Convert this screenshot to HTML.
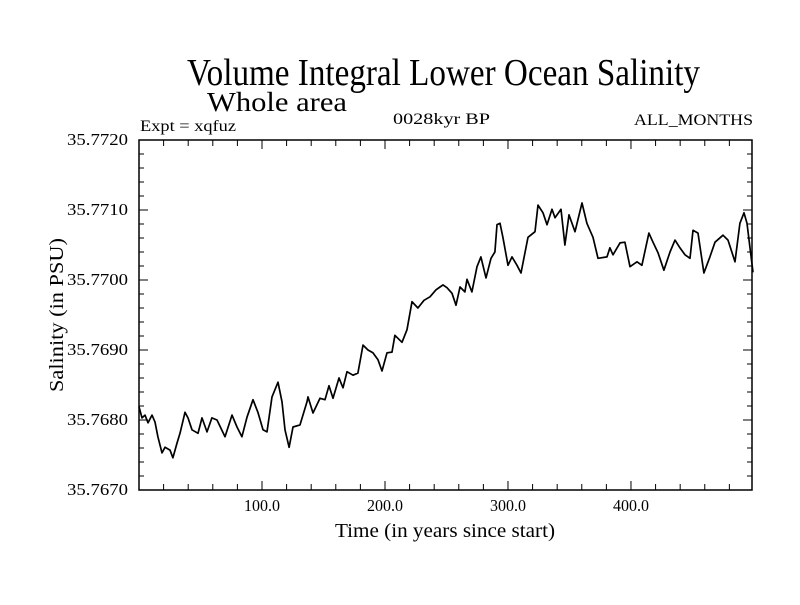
<!DOCTYPE html>
<html><head><meta charset="utf-8"><style>
body{margin:0;background:#fff}
svg text{font-family:"Liberation Serif",serif;fill:#000}
</style></head><body>
<svg width="800" height="600">
<rect width="800" height="600" fill="#fff"/>
<text x="187" y="85" font-size="38" textLength="513" lengthAdjust="spacingAndGlyphs">Volume Integral Lower Ocean Salinity</text>
<text x="207" y="111" font-size="27" textLength="140" lengthAdjust="spacingAndGlyphs">Whole area</text>
<text x="140" y="131" font-size="16" textLength="96" lengthAdjust="spacingAndGlyphs">Expt = xqfuz</text>
<text x="393" y="124" font-size="16" textLength="97" lengthAdjust="spacingAndGlyphs">0028kyr BP</text>
<text x="634" y="125" font-size="16" textLength="119" lengthAdjust="spacingAndGlyphs">ALL_MONTHS</text>
<g id="axes"></g>
<rect x="139" y="140" width="613" height="350" fill="none" stroke="#000" stroke-width="1.5"/>
<path id="line" fill="none" stroke="#000" stroke-width="1.7" stroke-linejoin="round"/>
<text x="335" y="537" font-size="20" textLength="220" lengthAdjust="spacingAndGlyphs">Time (in years since start)</text>
<text transform="translate(63,392) rotate(-90)" font-size="20" textLength="154" lengthAdjust="spacingAndGlyphs">Salinity (in PSU)</text>
</svg>
<script>
const years=[0,2.4,4.9,7.3,10.6,13.0,15.4,18.7,21.1,25.2,27.6,30.9,33.3,37.4,39.8,43.1,48.0,51.2,55.3,59.3,63.4,69.9,75.6,79.7,83.7,87.8,92.7,96.7,100.8,104.1,108.1,113.0,116.3,118.7,122.0,125.2,130.9,136.6,137.4,141.5,147.2,151.2,154.5,157.7,162.6,165.9,169.1,174.0,178.0,182.1,186.2,190.2,194.3,197.6,201.6,205.7,208.1,213.8,217.9,222,226.8,231.7,236.6,241.5,244.7,247.2,250.4,254.5,257.7,261.0,265.0,266.7,270.7,274.8,278.0,282.1,286.2,289.4,291.1,293.5,295.9,300.0,303.3,307.3,310.6,316.3,322.0,324.4,328.5,331.7,335.8,338.2,343.1,346.3,349.6,354.5,360.2,364.2,369.1,373.2,380.5,382.9,385.4,391.1,395.1,399.2,404.9,408.9,414.6,417.9,422.0,426.8,431.7,435.8,439.8,443.9,448.0,450.4,454.5,459.3,464.2,468.3,474.8,478.9,484.6,488.6,491.9,494.3,499.2];
const salinity=[35.76819,35.76803,35.76807,35.76796,35.76807,35.76797,35.76776,35.76753,35.76761,35.76757,35.76746,35.76767,35.76781,35.76811,35.76803,35.76786,35.76781,35.76803,35.76783,35.76803,35.76800,35.76776,35.76807,35.76790,35.76776,35.76804,35.76829,35.76811,35.76786,35.76783,35.76833,35.76854,35.76826,35.76786,35.76761,35.76790,35.76793,35.76826,35.76833,35.76810,35.76831,35.76829,35.76849,35.76831,35.76860,35.76846,35.76869,35.76864,35.76867,35.76907,35.76900,35.76896,35.76886,35.76870,35.76896,35.76897,35.76921,35.76911,35.76929,35.76969,35.76960,35.76971,35.76976,35.76986,35.76990,35.76993,35.76989,35.76981,35.76964,35.76990,35.76983,35.77001,35.76983,35.77019,35.77033,35.77003,35.77031,35.77040,35.77079,35.77081,35.77061,35.77021,35.77033,35.77021,35.77010,35.77061,35.77069,35.77107,35.77096,35.77079,35.77101,35.77089,35.77101,35.77050,35.77093,35.77069,35.77110,35.77081,35.77061,35.77031,35.77033,35.77046,35.77036,35.77053,35.77054,35.77019,35.77026,35.77021,35.77067,35.77054,35.77039,35.77014,35.77040,35.77057,35.77046,35.77036,35.77031,35.77071,35.77067,35.77010,35.77033,35.77054,35.77064,35.77057,35.77026,35.77081,35.77096,35.77081,35.77011];
const xTicks=[100,200,300,400];
const xTickLabels=["100.0","200.0","300.0","400.0"];
const yTicks=[35.7670,35.7680,35.7690,35.7700,35.7710,35.7720];
const yTickLabels=["35.7670","35.7680","35.7690","35.7700","35.7710","35.7720"];
const X0=139,X1=752,Y0=140,Y1=490,XMIN=0,XMAX=498.4,YMIN=35.7670,YMAX=35.7720;
function sx(v){return X0+(v-XMIN)/(XMAX-XMIN)*(X1-X0);}
function sy(v){return Y1-(v-YMIN)/(YMAX-YMIN)*(Y1-Y0);}
const NS="http://www.w3.org/2000/svg",g=document.getElementById('axes');
function ln(x1,y1,x2,y2,name){const l=document.createElementNS(NS,'line');l.setAttribute('x1',x1);l.setAttribute('y1',y1);l.setAttribute('x2',x2);l.setAttribute('y2',y2);l.setAttribute('stroke','#000');l.setAttribute('stroke-width','1');


g.appendChild(l);}
function tx(x,y,s,anchor,name,w){const t=document.createElementNS(NS,'text');t.setAttribute('x',x);t.setAttribute('y',y);t.setAttribute('font-size','17');t.setAttribute('text-anchor',anchor);if(w){t.setAttribute('textLength',w);t.setAttribute('lengthAdjust','spacingAndGlyphs');}t.textContent=s;


g.appendChild(t);}
for(let v=20;v<XMAX;v+=20){const x=sx(v),major=v%100===0,L=major?9:6;ln(x,Y1,x,Y1-L,'x-tick');ln(x,Y0,x,Y0+L,'x-tick-top');}
xTicks.forEach((v,i)=>tx(sx(v),511,xTickLabels[i],'middle','x-tick-label',36));
for(let k=0;k<=25;k++){const v=YMIN+k*0.0002;const y=sy(v);const major=k%5===0,L=major?9:5;ln(X0,y,X0+L,y,'y-tick');ln(X1,y,X1-L,y,'y-tick-right');}
yTicks.forEach((v,i)=>tx(128,sy(v)+5,yTickLabels[i],'end','y-tick-label',61));
document.getElementById('line').setAttribute('d',years.map((y,i)=>(i?'L':'M')+sx(y).toFixed(1)+','+sy(salinity[i]).toFixed(1)).join(''));
</script>
</body></html>
